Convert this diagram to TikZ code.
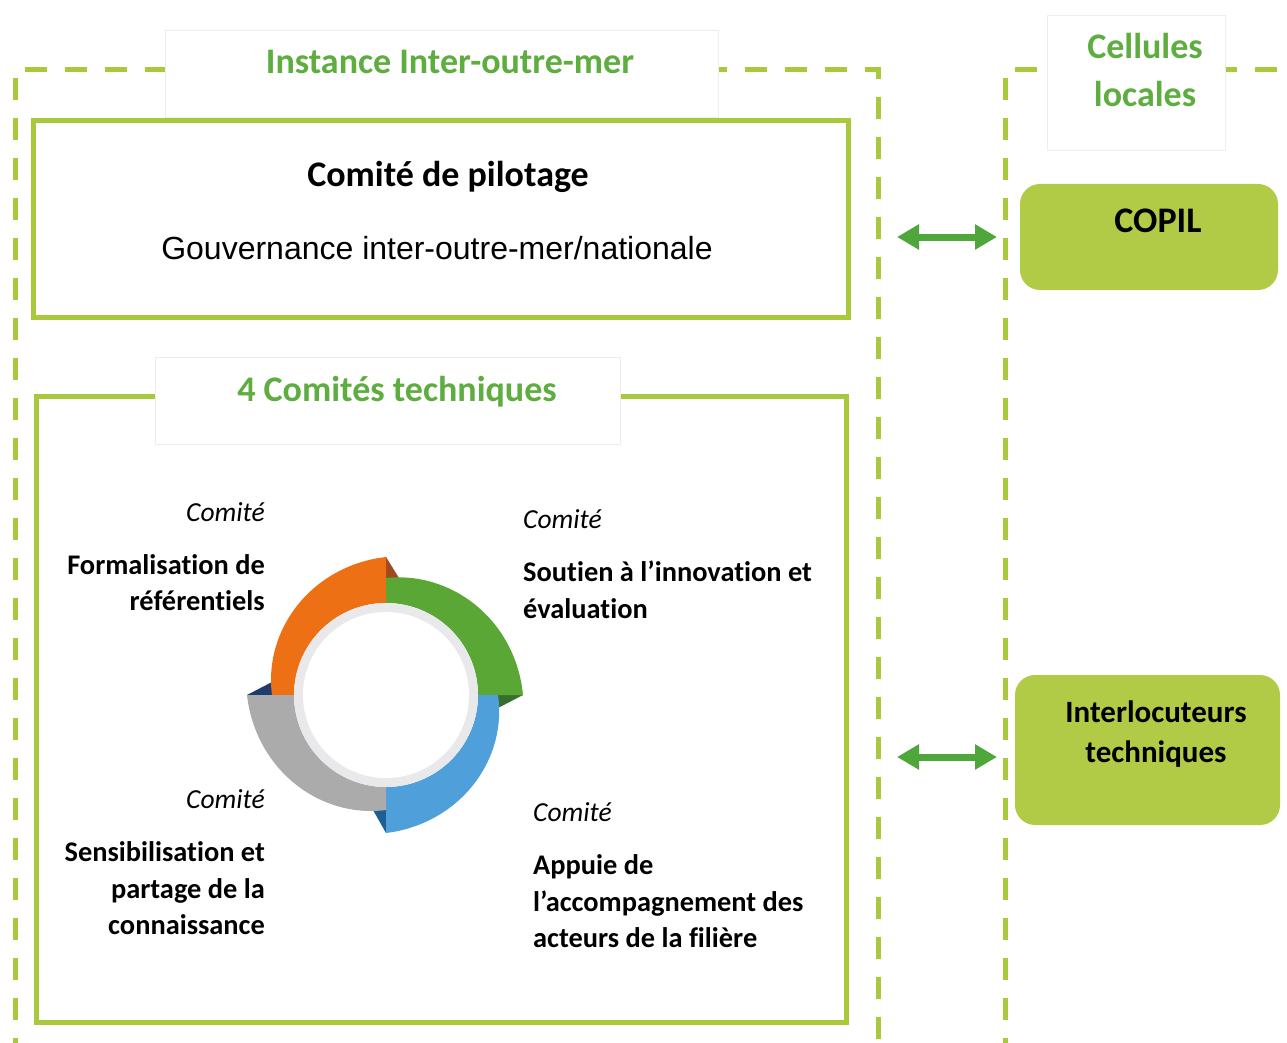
\documentclass[tikz,border=0pt]{standalone}
\usepackage{fontspec}
\setmainfont{Carlito}[Ligatures=NoCommon]
\newfontfamily\gouvfont{Liberation Sans}
\usetikzlibrary{arrows.meta}
\definecolor{limeline}{HTML}{A8C93C}
\definecolor{titlegreen}{HTML}{5DAD3F}
\definecolor{arrowgreen}{HTML}{4FA63A}
\definecolor{limefill}{HTML}{B2CB46}
\definecolor{segorange}{HTML}{ED7014}
\definecolor{seggreen}{HTML}{5AA736}
\definecolor{segblue}{HTML}{4F9FDA}
\definecolor{seggray}{HTML}{ABABAB}
\definecolor{foldbrown}{HTML}{9E4A1E}
\definecolor{folddkgreen}{HTML}{36702A}
\definecolor{folddkblue}{HTML}{1D5F94}
\definecolor{foldnavy}{HTML}{203B6E}
\definecolor{ringgray}{HTML}{E9E9EB}
\newcommand\ringseg[4]{%
  \fill[#1] plot[domain=#2:#2-90, samples=45]
    ({(#3+(#2-(\x))/90*(#4-#3))*cos(\x)}, {(#3+(#2-(\x))/90*(#4-#3))*sin(\x)})
    -- ({92*cos(#2-90)},{92*sin(#2-90)})
    arc[start angle=#2-90, end angle=#2, radius=92] -- cycle;}
\begin{document}
\begin{tikzpicture}[x=1pt,y=-1pt,
  dashline/.style={line width=5pt, draw=limeline, dash pattern=on 22pt off 18pt},
  solidbox/.style={draw=limeline, line width=5pt, fill=white, inner sep=0pt},
  labelbox/.style={draw=black!7, line width=0.8pt, fill=white, inner sep=0pt},
  greenbox/.style={fill=limefill, rounded corners=20pt, inner sep=0pt},
  titletext/.style={font=\fontsize{36}{48}\selectfont\bfseries, text=titlegreen, inner sep=0pt, align=center},
  blacktitle/.style={font=\fontsize{36}{42}\selectfont\bfseries, inner sep=0pt},
  boxtext/.style={font=\fontsize{31}{40}\selectfont\bfseries, inner sep=0pt, align=center},
  comlabel/.style={font=\fontsize{27.5}{33}\selectfont\itshape, inner sep=0pt},
  comtext/.style={font=\fontsize{28.4}{36.5}\selectfont\bfseries, inner sep=0pt},
  biarrow/.style={line width=7pt, draw=arrowgreen, {Triangle[length=22pt,width=24pt]}-{Triangle[length=22pt,width=24pt]}}
]
\useasboundingbox (0,0) rectangle (1287,1043);
\clip (0,0) rectangle (1287,1043);

% dashed frames
\draw[dashline] (15,1060) -- (15,70) -- (878,70) -- (878,1060);
\draw[dashline] (1005,1060) -- (1005,70) -- (1300,70);

% Instance Inter-outre-mer
\node[labelbox, minimum width=553pt, minimum height=87pt] (instbox) at (441.5,73.5) {};
\node[titletext, anchor=base] (insttxt) at (450,74) {Instance Inter-outre-mer};

% Comite de pilotage
\node[solidbox, minimum width=815pt, minimum height=196pt] (pilotbox) at (440.5,219) {};
\node[blacktitle, anchor=base] (pilottitle) at (448,186) {Comité de pilotage};
\node[inner sep=0pt, font=\gouvfont\fontsize{32}{38}\selectfont, anchor=base] (gouv) at (437,259) {Gouvernance inter-outre-mer/nationale};

% 4 comites techniques
\node[solidbox, minimum width=810pt, minimum height=626pt] (techbox) at (441,709) {};
\node[labelbox, minimum width=465pt, minimum height=87pt] (techlabbox) at (387.5,400.5) {};
\node[titletext, anchor=base] (techtxt) at (397,401) {4 Comités techniques};

% Cellules locales
\node[labelbox, minimum width=178pt, minimum height=135pt] (cellbox) at (1136,82.5) {};
\node[titletext, anchor=base] (celltxt1) at (1145,59) {Cellules};
\node[titletext, anchor=base] (celltxt2) at (1145,107) {locales};

% COPIL and Interlocuteurs
\node[greenbox, minimum width=258pt, minimum height=106pt] (copil) at (1149,237) {};
\node[blacktitle, anchor=base] (copiltxt) at (1158,233) {COPIL};
\node[greenbox, minimum width=265pt, minimum height=150pt] (interloc) at (1147.5,750) {};
\node[boxtext, anchor=base] (intertxt1) at (1156,722) {Interlocuteurs};
\node[boxtext, anchor=base] (intertxt2) at (1156,762) {techniques};

% arrows
\coordinate (a1l) at (897,237);
\coordinate (a1r) at (997,237);
\coordinate (a2l) at (897,757);
\coordinate (a2r) at (997,757);
\draw[biarrow] (a1l) -- (a1r);
\draw[biarrow] (a2l) -- (a2r);

% cycle graphic
\begin{scope}[shift={(386,695)}, yscale=-1]
  \fill[foldbrown] (0,138) -- (13,117) -- (0,117) -- cycle;
  \fill[folddkgreen] (137,0) -- (112,0) -- (112,-13) -- cycle;
  \fill[folddkblue] (0,-138) -- (0,-115) -- (-13,-115) -- cycle;
  \fill[foldnavy] (-139,0) -- (-114,0) -- (-114,13) -- cycle;
  \ringseg{segorange}{180}{114}{138}
  \ringseg{seggreen}{90}{117}{137}
  \ringseg{segblue}{360}{112}{138}
  \ringseg{seggray}{270}{115}{139}
  \fill[ringgray] (0,0) circle[radius=92];
  \fill[white] (0,0) circle[radius=83];
\end{scope}

% committee texts
\node[comlabel, anchor=base east] (c1lab) at (265,521) {Comité};
\node[comtext, anchor=base east] (c1a) at (265,574) {Formalisation de};
\node[comtext, anchor=base east] (c1b) at (265,610.5) {référentiels};

\node[comlabel, anchor=base west] (c2lab) at (523,528) {Comité};
\node[comtext, anchor=base west] (c2a) at (523,581) {Soutien à l’innovation et};
\node[comtext, anchor=base west] (c2b) at (523,618) {évaluation};

\node[comlabel, anchor=base east] (c3lab) at (265,808) {Comité};
\node[comtext, anchor=base east] (c3a) at (265,861) {Sensibilisation et};
\node[comtext, anchor=base east] (c3b) at (265,898) {partage de la};
\node[comtext, anchor=base east] (c3c) at (265,934) {connaissance};

\node[comlabel, anchor=base west] (c4lab) at (533,821) {Comité};
\node[comtext, anchor=base west] (c4a) at (533,874) {Appuie de};
\node[comtext, anchor=base west] (c4b) at (533,911) {l’accompagnement des};
\node[comtext, anchor=base west] (c4c) at (533,947) {acteurs de la filière};
\end{tikzpicture}
\end{document}
